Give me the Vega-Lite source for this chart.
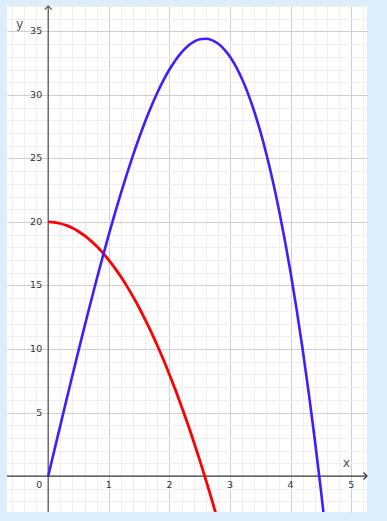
{
  "$schema": "https://vega.github.io/schema/vega-lite/v6.json",
  "width": 360,
  "height": 506,
  "autosize": {"type": "none"},
  "padding": {"left": 7, "top": 6, "right": 20, "bottom": 9},
  "background": "#dcedfc",
  "config": {"view": {"fill": "white", "stroke": null}},
  "datasets": {
    "blue": [
      {"x": 0, "y": 0}, {"x": 0.1, "y": 1.999}, {"x": 0.2, "y": 3.992}, {"x": 0.3, "y": 5.973}, {"x": 0.4, "y": 7.936},
      {"x": 0.5, "y": 9.875}, {"x": 0.6, "y": 11.784}, {"x": 0.7, "y": 13.657}, {"x": 0.8, "y": 15.488}, {"x": 0.9, "y": 17.271},
      {"x": 1.0, "y": 19}, {"x": 1.1, "y": 20.669}, {"x": 1.2, "y": 22.272}, {"x": 1.3, "y": 23.803}, {"x": 1.4, "y": 25.256},
      {"x": 1.5, "y": 26.625}, {"x": 1.6, "y": 27.904}, {"x": 1.7, "y": 29.087}, {"x": 1.8, "y": 30.168}, {"x": 1.9, "y": 31.141},
      {"x": 2.0, "y": 32}, {"x": 2.1, "y": 32.739}, {"x": 2.2, "y": 33.352}, {"x": 2.3, "y": 33.833}, {"x": 2.4, "y": 34.176},
      {"x": 2.5, "y": 34.375}, {"x": 2.6, "y": 34.424}, {"x": 2.7, "y": 34.317}, {"x": 2.8, "y": 34.048}, {"x": 2.9, "y": 33.611},
      {"x": 3.0, "y": 33}, {"x": 3.1, "y": 32.209}, {"x": 3.2, "y": 31.232}, {"x": 3.3, "y": 30.063}, {"x": 3.4, "y": 28.696},
      {"x": 3.5, "y": 27.125}, {"x": 3.6, "y": 25.344}, {"x": 3.7, "y": 23.347}, {"x": 3.8, "y": 21.128}, {"x": 3.9, "y": 18.681},
      {"x": 4.0, "y": 16}, {"x": 4.1, "y": 13.079}, {"x": 4.2, "y": 9.912}, {"x": 4.3, "y": 6.493}, {"x": 4.4, "y": 2.816},
      {"x": 4.5, "y": -1.125}, {"x": 4.6, "y": -5.336}
    ],
    "red": [
      {"x": 0, "y": 20}, {"x": 0.1, "y": 19.97}, {"x": 0.2, "y": 19.88}, {"x": 0.3, "y": 19.73}, {"x": 0.4, "y": 19.52},
      {"x": 0.5, "y": 19.25}, {"x": 0.6, "y": 18.92}, {"x": 0.7, "y": 18.53}, {"x": 0.8, "y": 18.08}, {"x": 0.9, "y": 17.57},
      {"x": 1.0, "y": 17}, {"x": 1.1, "y": 16.37}, {"x": 1.2, "y": 15.68}, {"x": 1.3, "y": 14.93}, {"x": 1.4, "y": 14.12},
      {"x": 1.5, "y": 13.25}, {"x": 1.6, "y": 12.32}, {"x": 1.7, "y": 11.33}, {"x": 1.8, "y": 10.28}, {"x": 1.9, "y": 9.17},
      {"x": 2.0, "y": 8}, {"x": 2.1, "y": 6.77}, {"x": 2.2, "y": 5.48}, {"x": 2.3, "y": 4.13}, {"x": 2.4, "y": 2.72},
      {"x": 2.5, "y": 1.25}, {"x": 2.6, "y": -0.28}, {"x": 2.7, "y": -1.87}, {"x": 2.8, "y": -3.52}
    ],
    "xlabels": [{"x": 1, "y": 0, "t": "1"}, {"x": 2, "y": 0, "t": "2"}, {"x": 3, "y": 0, "t": "3"}, {"x": 4, "y": 0, "t": "4"}, {"x": 5, "y": 0, "t": "5"}],
    "ylabels": [{"x": 0, "y": 5, "t": "5"}, {"x": 0, "y": 10, "t": "10"}, {"x": 0, "y": 15, "t": "15"}, {"x": 0, "y": 20, "t": "20"}, {"x": 0, "y": 25, "t": "25"}, {"x": 0, "y": 30, "t": "30"}, {"x": 0, "y": 35, "t": "35"}],
    "zero": [{"x": 0, "y": 0, "t": "0"}],
    "names": [{"x": 4.92, "y": 1.02, "t": "x"}, {"x": -0.47, "y": 35.6, "t": "y"}],
    "origin": [{"x": 0, "y": 0}],
    "arrowTop": [{"x": 0, "y": 37.0}],
    "arrowRight": [{"x": 5.26, "y": 0}]
  },
  "layer": [
    {
      "data": {"name": "origin"},
      "mark": {"type": "point", "opacity": 0},
      "encoding": {
        "x": {"field": "x", "type": "quantitative", "scale": {"domain": [-0.68, 5.26], "nice": false, "zero": false},
          "axis": {"orient": "bottom", "values": [-0.6, -0.4, -0.2, 0.2, 0.4, 0.6, 0.8, 1.2, 1.4, 1.6, 1.8, 2.2, 2.4, 2.6, 2.8, 3.2, 3.4, 3.6, 3.8, 4.2, 4.4, 4.6, 4.8, 5.2],
            "grid": true, "gridColor": "#efefef", "gridWidth": 1, "labels": false, "ticks": false, "domain": false, "title": null}},
        "y": {"field": "y", "type": "quantitative", "scale": {"domain": [-2.83, 37.0], "nice": false, "zero": false},
          "axis": {"orient": "left", "values": [-2, -1, 1, 2, 3, 4, 6, 7, 8, 9, 11, 12, 13, 14, 16, 17, 18, 19, 21, 22, 23, 24, 26, 27, 28, 29, 31, 32, 33, 34, 36, 37],
            "grid": true, "gridColor": "#efefef", "gridWidth": 1, "labels": false, "ticks": false, "domain": false, "title": null}}
      }
    },
    {
      "data": {"name": "origin"},
      "mark": {"type": "point", "opacity": 0},
      "encoding": {
        "x": {"field": "x", "type": "quantitative",
          "axis": {"orient": "bottom", "values": [1, 2, 3, 4, 5], "grid": true, "gridColor": "#cfcfcf", "gridWidth": 1, "labels": false, "ticks": false, "domain": false, "title": null}},
        "y": {"field": "y", "type": "quantitative",
          "axis": {"orient": "left", "values": [5, 10, 15, 20, 25, 30, 35], "grid": true, "gridColor": "#cfcfcf", "gridWidth": 1, "labels": false, "ticks": false, "domain": false, "title": null}}
      }
    },
    {
      "data": {"name": "origin"},
      "mark": {"type": "rule", "color": "#555555", "strokeWidth": 1.3},
      "encoding": {"x": {"field": "x", "type": "quantitative", "axis": null}}
    },
    {
      "data": {"name": "origin"},
      "mark": {"type": "rule", "color": "#333333", "strokeWidth": 1.3},
      "encoding": {"y": {"field": "y", "type": "quantitative", "axis": null}}
    },
    {
      "data": {"name": "arrowTop"},
      "mark": {"type": "point", "shape": "M-1,1L0,0L1,1", "filled": false, "color": "#555555", "strokeWidth": 1.2, "size": 49, "opacity": 1},
      "encoding": {"x": {"field": "x", "type": "quantitative", "axis": null}, "y": {"field": "y", "type": "quantitative", "axis": null}}
    },
    {
      "data": {"name": "arrowRight"},
      "mark": {"type": "point", "shape": "M-1,-1L0,0L-1,1", "filled": false, "color": "#333333", "strokeWidth": 1.2, "size": 49, "opacity": 1},
      "encoding": {"x": {"field": "x", "type": "quantitative", "axis": null}, "y": {"field": "y", "type": "quantitative", "axis": null}}
    },
    {
      "data": {"name": "red"},
      "mark": {"type": "line", "color": "#ff0000", "strokeWidth": 2.8, "clip": true, "interpolate": "monotone"},
      "encoding": {"x": {"field": "x", "type": "quantitative", "axis": null}, "y": {"field": "y", "type": "quantitative", "axis": null}}
    },
    {
      "data": {"name": "blue"},
      "mark": {"type": "line", "color": "#3c1eff", "strokeWidth": 2.6, "clip": true, "interpolate": "monotone"},
      "encoding": {"x": {"field": "x", "type": "quantitative", "axis": null}, "y": {"field": "y", "type": "quantitative", "axis": null}}
    },
    {
      "data": {"name": "xlabels"},
      "mark": {"type": "text", "font": "DejaVu Sans", "fontSize": 9.5, "color": "#333333", "align": "center", "baseline": "middle", "dy": 9},
      "encoding": {"x": {"field": "x", "type": "quantitative", "axis": null}, "y": {"field": "y", "type": "quantitative", "axis": null}, "text": {"field": "t"}}
    },
    {
      "data": {"name": "ylabels"},
      "mark": {"type": "text", "font": "DejaVu Sans", "fontSize": 9.5, "color": "#333333", "align": "right", "baseline": "middle", "dx": -6},
      "encoding": {"x": {"field": "x", "type": "quantitative", "axis": null}, "y": {"field": "y", "type": "quantitative", "axis": null}, "text": {"field": "t"}}
    },
    {
      "data": {"name": "zero"},
      "mark": {"type": "text", "font": "DejaVu Sans", "fontSize": 9.5, "color": "#333333", "align": "right", "baseline": "middle", "dx": -6, "dy": 9},
      "encoding": {"x": {"field": "x", "type": "quantitative", "axis": null}, "y": {"field": "y", "type": "quantitative", "axis": null}, "text": {"field": "t"}}
    },
    {
      "data": {"name": "names"},
      "mark": {"type": "text", "font": "DejaVu Sans", "fontSize": 12.5, "color": "#555555", "align": "center", "baseline": "middle"},
      "encoding": {"x": {"field": "x", "type": "quantitative", "axis": null}, "y": {"field": "y", "type": "quantitative", "axis": null}, "text": {"field": "t"}}
    }
  ],
  "resolve": {"axis": {"x": "independent", "y": "independent"}}
}
